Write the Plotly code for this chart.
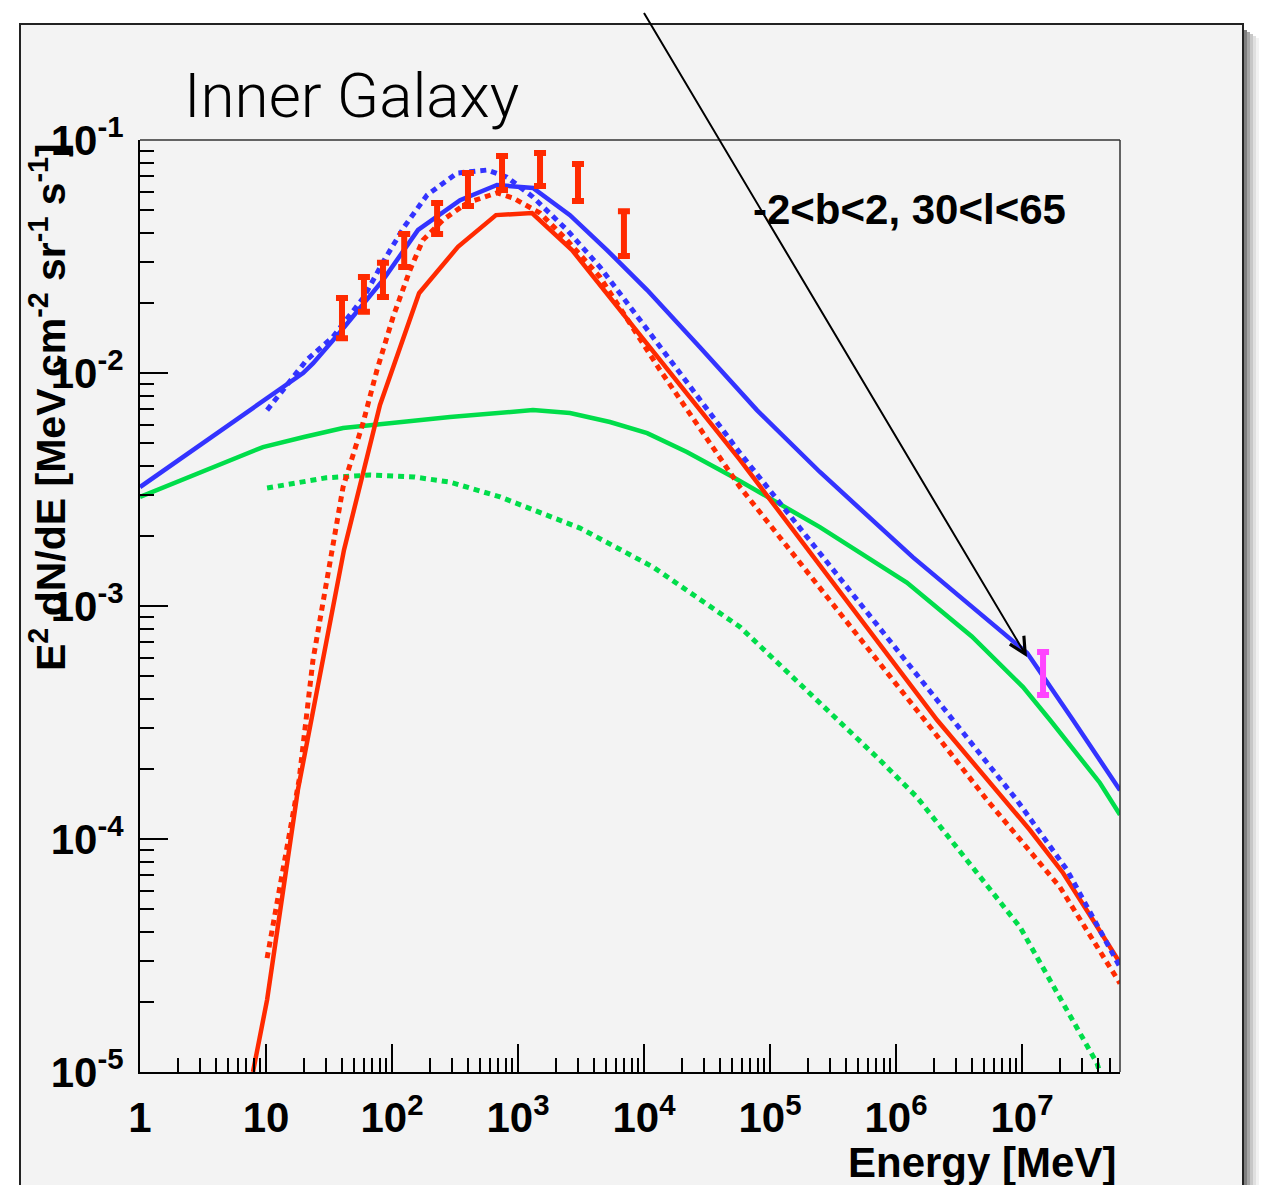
import plotly.graph_objects as go
import numpy as np

# ---------------- data ----------------
blue_solid_E = [1, 19.7, 23.6, 40, 85, 161, 347, 681, 1315, 2586, 5085, 1.06e4, 2.78e4, 7.88e4,
                2.49e5, 1.36e6, 1.1e7, 1.47e7, 2.54e7, 6.0e7]
blue_solid_F = [3.24e-3, 1.0e-2, 1.10e-2, 1.53e-2, 2.51e-2, 4.11e-2, 5.52e-2, 6.41e-2, 6.22e-2,
                4.76e-2, 3.37e-2, 2.27e-2, 1.29e-2, 6.93e-3, 3.76e-3, 1.62e-3, 6.28e-4, 5.0e-4,
                3.24e-4, 1.62e-4]

blue_dot_E = [10.2, 21.1, 34, 59.9, 84.8, 125, 190, 328, 568, 818, 1315, 2449, 4477, 8185,
              1.93e4, 5.78e4, 1.0e6, 9.1e6, 2.28e7, 6.0e7]
blue_dot_F = [6.93e-3, 1.14e-2, 1.43e-2, 2.12e-2, 2.99e-2, 4.24e-2, 5.81e-2, 7.21e-2, 7.43e-2,
              6.93e-2, 5.69e-2, 4.11e-2, 2.85e-2, 1.86e-2, 1.0e-2, 4.54e-3, 6.6e-4, 1.47e-4,
              7.36e-5, 2.82e-5]

red_solid_E = [7.88, 10.2, 17.9, 27.8, 41.6, 80.3, 164, 334, 669, 1292, 2683, 5.78e4, 2.12e6,
               1.16e7, 2.12e7, 3.66e7, 6.0e7]
red_solid_F = [1.0e-5, 2.04e-5, 1.62e-4, 5.58e-4, 1.74e-3, 7.29e-3, 2.20e-2, 3.48e-2, 4.76e-2,
               4.86e-2, 3.37e-2, 4.24e-3, 3.24e-4, 1.09e-4, 7.15e-5, 4.49e-5, 2.94e-5]

red_dot_E = [10.2, 18.3, 23.6, 40.9, 58.9, 76, 102, 139, 176, 254, 394, 681, 912, 1496, 2449,
             4477, 1.34e4, 5.78e4, 1.76e6, 5.28e6, 2.0e7, 6.0e7]
red_dot_F = [3.08e-5, 1.79e-4, 5.86e-4, 3.24e-3, 6.1e-3, 1.03e-2, 1.74e-2, 2.77e-2, 3.72e-2,
             4.54e-2, 5.37e-2, 5.93e-2, 5.64e-2, 4.86e-2, 3.72e-2, 2.58e-2, 1.03e-2, 3.24e-3,
             3.15e-4, 1.47e-4, 6.22e-5, 2.4e-5]

green_solid_E = [1, 3, 9.46, 20, 40.9, 100, 289, 1315, 2586, 5370, 1.06e4, 2.19e4, 5.08e4,
                 2.49e5, 5.0e5, 1.22e6, 4.0e6, 1.02e7, 1.67e7, 4.16e7, 6.0e7]
green_solid_F = [2.94e-3, 3.76e-3, 4.81e-3, 5.31e-3, 5.81e-3, 6.1e-3, 6.48e-3, 6.93e-3, 6.73e-3,
                 6.16e-3, 5.52e-3, 4.58e-3, 3.58e-3, 2.18e-3, 1.72e-3, 1.26e-3, 7.4e-4, 4.49e-4,
                 3.24e-4, 1.74e-4, 1.27e-4]

green_dot_E = [10.2, 30, 66.9, 150, 289, 720, 3105, 1.18e4, 5.78e4, 7.46e5, 1.47e6, 4.64e6,
               9.64e6, 3.94e7, 4.4e7]
green_dot_F = [3.21e-3, 3.55e-3, 3.65e-3, 3.58e-3, 3.40e-3, 2.94e-3, 2.16e-3, 1.47e-3, 8.13e-4,
               2.18e-4, 1.51e-4, 6.87e-5, 4.19e-5, 1.09e-5, 9.0e-6]

pt_E = [40.1, 59.9, 84.8, 125, 228, 401, 747, 1496, 2994, 6934]
pt_hi = [2.10e-2, 2.58e-2, 2.97e-2, 3.95e-2, 5.37e-2, 7.21e-2, 8.53e-2, 8.79e-2, 7.89e-2, 4.95e-2]
pt_lo = [1.41e-2, 1.83e-2, 2.12e-2, 2.85e-2, 3.95e-2, 5.21e-2, 6.10e-2, 6.35e-2, 5.47e-2, 3.18e-2]

hi_E = [1.47e7]
hi_hi = [6.35e-4]
hi_lo = [4.15e-4]

x_tickvals = [1, 10, 1e2, 1e3, 1e4, 1e5, 1e6, 1e7]
x_ticktext = ["1", "10", "10<sup>2</sup>", "10<sup>3</sup>", "10<sup>4</sup>", "10<sup>5</sup>",
              "10<sup>6</sup>", "10<sup>7</sup>"]
y_tickvals = [1e-5, 1e-4, 1e-3, 1e-2, 1e-1]
y_ticktext = ["10<sup>-5</sup>", "10<sup>-4</sup>", "10<sup>-3</sup>", "10<sup>-2</sup>", "10<sup>-1</sup>"]

# ---------------- styling ----------------
BLUE = "#3333ff"
RED = "#ff2a00"
GREEN = "#00dd4a"
MAGENTA = "#ff44ff"
PANEL = "#f3f3f3"
FONT = "Liberation Sans, Arial, Helvetica, sans-serif"

W, H = 1263, 1185
L, R, T, B = 140, 143, 140, 113
PW, PH = W - L - R, H - T - B


def px(xp):
    return (xp - L) / PW


def py(yp):
    return (H - B - yp) / PH


fig = go.Figure()


def add_line(E, F, color, dotted):
    fig.add_trace(go.Scatter(
        x=E, y=F, mode="lines",
        line=dict(color=color, width=5 if dotted else 4.5, dash="6px,5px" if dotted else "solid"),
        hoverinfo="skip", showlegend=False))


add_line(green_dot_E, green_dot_F, GREEN, True)
add_line(green_solid_E, green_solid_F, GREEN, False)
add_line(red_dot_E, red_dot_F, RED, True)
add_line(red_solid_E, red_solid_F, RED, False)
add_line(blue_dot_E, blue_dot_F, BLUE, True)
add_line(blue_solid_E, blue_solid_F, BLUE, False)


def add_points(E, hi, lo, color):
    hi = np.array(hi)
    lo = np.array(lo)
    c = np.sqrt(hi * lo)
    fig.add_trace(go.Scatter(
        x=E, y=c, mode="markers",
        marker=dict(size=1, color=color, opacity=0),
        error_y=dict(type="data", symmetric=False, array=hi - c, arrayminus=c - lo,
                     color=color, thickness=6, width=6),
        hoverinfo="skip", showlegend=False))


add_points(pt_E, pt_hi, pt_lo, RED)
add_points(hi_E, hi_hi, hi_lo, MAGENTA)

axis_common = dict(
    type="log", showgrid=False, zeroline=False,
    showline=True, linecolor="black", linewidth=2,
    ticks="inside", ticklen=28, tickwidth=1.5, tickcolor="black",
    tickmode="array",
    tickfont=dict(family=FONT, size=42, color="black", weight="bold"),
    minor=dict(ticks="inside", ticklen=14, tickwidth=1.5, tickcolor="black", dtick="D1", showgrid=False),
)

fig.update_xaxes(**axis_common, range=[0, np.log10(6.0e7)],
                 tickvals=x_tickvals, ticktext=x_ticktext, ticklabelstandoff=8)
fig.update_yaxes(**axis_common, range=[-5, -1],
                 tickvals=y_tickvals, ticktext=y_ticktext, ticklabelstandoff=6)

shapes = []
# shadow of the outer panel
for i, a in enumerate([0.5, 0.35, 0.22, 0.12, 0.05]):
    shapes.append(dict(type="rect", xref="paper", yref="paper",
                       x0=px(1244 + 3 * i), x1=px(1247 + 3 * i), y0=py(1200), y1=py(30 + 2 * i),
                       fillcolor=f"rgba(0,0,0,{a})", line=dict(width=0), layer="below"))
# outer panel
shapes.append(dict(type="rect", xref="paper", yref="paper",
                   x0=px(20), x1=px(1243), y0=py(1200), y1=py(24),
                   fillcolor=PANEL, line=dict(color="#222222", width=2), layer="below"))
# frame top/right
shapes.append(dict(type="line", xref="paper", yref="paper", x0=0, x1=1, y0=1, y1=1,
                   line=dict(color="#333333", width=1.5)))
shapes.append(dict(type="line", xref="paper", yref="paper", x0=1, x1=1, y0=0, y1=1,
                   line=dict(color="#333333", width=1.5)))

annotations = [
    dict(text="Inner Galaxy", xref="paper", yref="paper", x=px(182), y=py(96),
         xanchor="left", yanchor="middle", showarrow=False,
         font=dict(family="Roboto, Liberation Sans, sans-serif", size=62, color="black", weight=300)),
    dict(text="<b>-2&lt;b&lt;2, 30&lt;l&lt;65</b>", xref="paper", yref="paper", x=px(751), y=py(209),
         xanchor="left", yanchor="middle", showarrow=False,
         font=dict(family=FONT, size=42, color="black")),
    dict(text="<b>E<sup>2</sup> dN/dE [MeV cm<sup>-2</sup> sr<sup>-1</sup> s<sup>-1</sup>]</b>",
         xref="paper", yref="paper", x=px(48), y=py(407), textangle=-90,
         xanchor="center", yanchor="middle", showarrow=False,
         font=dict(family=FONT, size=41, color="black")),
    dict(text="<b>Energy [MeV]</b>", xref="paper", yref="paper", x=px(1118), y=py(1162),
         xanchor="right", yanchor="middle", showarrow=False,
         font=dict(family=FONT, size=42, color="black")),
    dict(text=" ", xref="x", yref="y", x=7.04, y=-3.219, axref="pixel", ayref="pixel",
         ax=-386, ay=-649, showarrow=True, arrowhead=5, arrowsize=1.6, arrowwidth=2,
         arrowcolor="black", standoff=0),
]

fig.update_layout(
    width=W, height=H, autosize=False,
    margin=dict(l=L, r=R, t=T, b=B, pad=0),
    paper_bgcolor="white", plot_bgcolor="rgba(0,0,0,0)",
    shapes=shapes, annotations=annotations, showlegend=False,
)

fig.write_html("out.html")
